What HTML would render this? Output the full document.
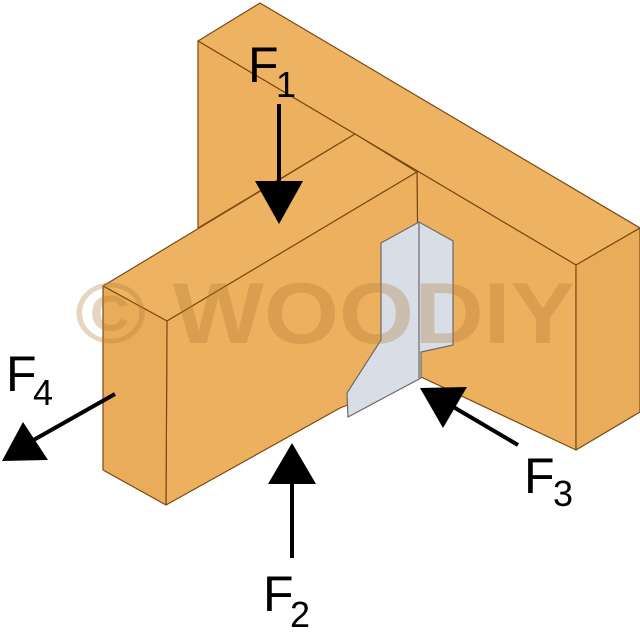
<!DOCTYPE html>
<html><head><meta charset="utf-8"><style>
html,body{margin:0;padding:0;background:#fff;width:640px;height:640px;overflow:hidden}
svg{display:block}
text{font-family:"Liberation Sans",sans-serif;fill:#000}
</style></head><body>
<svg width="640" height="640" viewBox="0 0 640 640" xmlns="http://www.w3.org/2000/svg">
<g stroke="#7a4a14" stroke-width="1.2" stroke-linejoin="round">
<polygon points="198,41 260,3 640,228 576,265" fill="#edb262"/>
<polygon points="198,41 576,265 576,450 419,376 417,172 355,134 198,228" fill="#ecb05e"/>
<polygon points="576,265 640,228 640,412 576,450" fill="#e9ac5a"/>
<polygon points="103,286 355,134 417,172 167,321" fill="#edb262"/>
<polygon points="167,321 417,172 419,376 340,408 166,505" fill="#ecb05e"/>
<polygon points="103,286 167,321 166,505 103,470" fill="#e9ac5a"/>
</g>
<polygon points="381,243 419,222 453,241 453,345 421,352 421,378 348,417 347,393 381,340" fill="#d9dde6" stroke="#6a6a6a" stroke-width="1.2"/>
<line x1="419" y1="222" x2="419" y2="378" stroke="#6a6a6a" stroke-width="1.2"/>
<text x="325" y="343" font-size="86" font-weight="bold" text-anchor="middle" textLength="500" lengthAdjust="spacingAndGlyphs" style="fill:#b07830;opacity:0.3">© WOODIY</text>
<g stroke="#000" stroke-width="4">
<line x1="279" y1="104" x2="279" y2="185"/>
<line x1="292" y1="480" x2="292" y2="558"/>
<line x1="518" y1="445" x2="450" y2="405"/>
<line x1="115" y1="394" x2="30" y2="442"/>
</g>
<g fill="#000">
<polygon points="255,181 303,181 279,224"/>
<polygon points="268,484 316,484 292,443"/>
<polygon points="420,388 467,387 443,428"/>
<polygon points="2,461 48,460 23,422"/>
</g>
<text x="248" y="82" font-size="50">F</text><text x="276" y="97" font-size="36">1</text>
<text x="263" y="611" font-size="50">F</text><text x="290" y="627" font-size="36">2</text>
<text x="524" y="493" font-size="50">F</text><text x="553" y="506" font-size="36">3</text>
<text x="6" y="391" font-size="50">F</text><text x="33" y="405" font-size="36">4</text>
</svg>
</body></html>
